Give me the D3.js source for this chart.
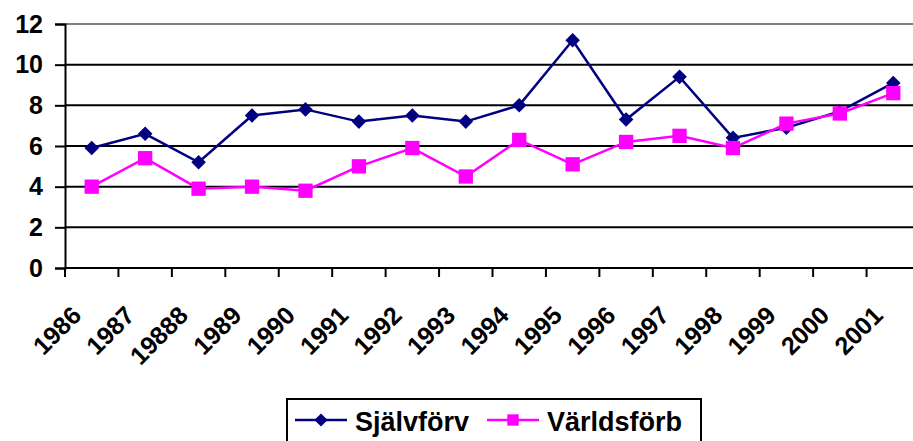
<!DOCTYPE html>
<html>
<head>
<meta charset="utf-8">
<script src="https://cdn.jsdelivr.net/npm/d3@7"></script>
<style>
    html, body { margin: 0; padding: 0; background: #fff; overflow: hidden; }
    svg { display: block; font-family: "Liberation Sans", Arial, sans-serif; font-weight: bold; }
</style>
</head>
<body>
<svg id="chart" width="913" height="441"></svg>
<script>
// chart data
var years = ["1986", "1987", "19888", "1989", "1990", "1991", "1992", "1993",
    "1994", "1995", "1996", "1997", "1998", "1999", "2000", "2001"];
var sjalvforv = [5.9, 6.6, 5.2, 7.5, 7.8, 7.2, 7.5, 7.2, 8.0, 11.2, 7.3, 9.4, 6.4, 6.9, 7.7, 9.1];
var varldsforb = [4.0, 5.4, 3.9, 4.0, 3.8, 5.0, 5.9, 4.5, 6.3, 5.1, 6.2, 6.5, 5.9, 7.1, 7.6, 8.6];
var yTicks = [0, 2, 4, 6, 8, 10, 12];
var seriesNames = ["Självförv", "Världsförb"];

var NAVY = "#000080";
var MAGENTA = "#ff00ff";

var svg = d3.select("#chart");

var plotLeft = 65, plotRight = 920, plotTop = 24, plotBottom = 268;

var x = d3.scaleBand()
    .domain(years)
    .range([plotLeft, plotRight]);

var y = d3.scaleLinear()
    .domain([0, 12])
    .range([plotBottom, plotTop]);

// gridlines
svg.append("g")
    .selectAll("line")
    .data(yTicks.filter(function (d) { return d > 0; }))
    .join("line")
    .attr("x1", plotLeft)
    .attr("x2", 913)
    .attr("y1", function (d) { return y(d); })
    .attr("y2", function (d) { return y(d); })
    .attr("stroke", function (d) { return d === 12 ? "#808080" : "#000"; })
    .attr("stroke-width", 2);

// y axis
var yAxis = svg.append("g")
    .attr("transform", "translate(" + plotLeft + ",0)")
    .call(d3.axisLeft(y).tickValues(yTicks).tickSize(10).tickPadding(12));
yAxis.select(".domain").attr("stroke", "#000").attr("stroke-width", 2);
yAxis.selectAll(".tick line").attr("stroke", "#000").attr("stroke-width", 2);
yAxis.selectAll(".tick text")
    .attr("fill", "#000")
    .style("font-size", "25px")
    .style("font-weight", "bold")
    .style("font-family", "Liberation Sans, Arial, sans-serif");

// x axis
var xTickPos = years.map(function (d) { return x(d); }).concat([plotRight]);
var xAxis = svg.append("g")
    .attr("transform", "translate(0," + plotBottom + ")");
xAxis.append("line")
    .attr("x1", plotLeft).attr("x2", 913)
    .attr("stroke", "#000").attr("stroke-width", 2);
xAxis.selectAll(".xtick")
    .data(xTickPos)
    .join("line")
    .attr("class", "xtick")
    .attr("x1", function (d) { return d; })
    .attr("x2", function (d) { return d; })
    .attr("y1", 0).attr("y2", 9)
    .attr("stroke", "#000").attr("stroke-width", 2);
xAxis.selectAll("text")
    .data(years)
    .join("text")
    .attr("text-anchor", "end")
    .attr("transform", function (d) {
        var cx = x(d) + x.bandwidth() / 2 - 9;
        return "translate(" + cx + ",49) rotate(-45)";
    })
    .style("font-size", "25px")
    .attr("fill", "#000")
    .text(function (d) { return d; });

// lines
var line = d3.line()
    .x(function (d, i) { return x(years[i]) + x.bandwidth() / 2; })
    .y(function (d) { return y(d); });

function drawSeries(values, color, shape, size) {
    svg.append("path")
        .datum(values)
        .attr("d", line)
        .attr("fill", "none")
        .attr("stroke", color)
        .attr("stroke-width", 2.5);

    svg.append("g")
        .selectAll("path")
        .data(values)
        .join("path")
        .attr("transform", function (d, i) {
            return "translate(" + (x(years[i]) + x.bandwidth() / 2) + "," + y(d) + ")";
        })
        .attr("d", d3.symbol().type(shape).size(size))
        .attr("fill", color);
}

drawSeries(sjalvforv, NAVY, d3.symbolDiamond2, 135);
drawSeries(varldsforb, MAGENTA, d3.symbolSquare, 205);

// legend
var legend = svg.append("g");
legend.append("rect")
    .attr("x", 287).attr("y", 399)
    .attr("width", 414).attr("height", 60)
    .attr("fill", "#fff")
    .attr("stroke", "#000")
    .attr("stroke-width", 2);

var legendItems = [
    { name: seriesNames[0], color: NAVY, shape: d3.symbolDiamond2, size: 110, x0: 295 },
    { name: seriesNames[1], color: MAGENTA, shape: d3.symbolSquare, size: 130, x0: 487 }
];

legendItems.forEach(function (item) {
    legend.append("line")
        .attr("x1", item.x0).attr("x2", item.x0 + 52)
        .attr("y1", 420).attr("y2", 420)
        .attr("stroke", item.color).attr("stroke-width", 2.5);
    legend.append("path")
        .attr("transform", "translate(" + (item.x0 + 26) + ",420)")
        .attr("d", d3.symbol().type(item.shape).size(item.size))
        .attr("fill", item.color);
    legend.append("text")
        .attr("x", item.x0 + 60)
        .attr("y", 431)
        .style("font-size", "27px")
        .attr("fill", "#000")
        .text(item.name);
});
</script>
</body>
</html>
